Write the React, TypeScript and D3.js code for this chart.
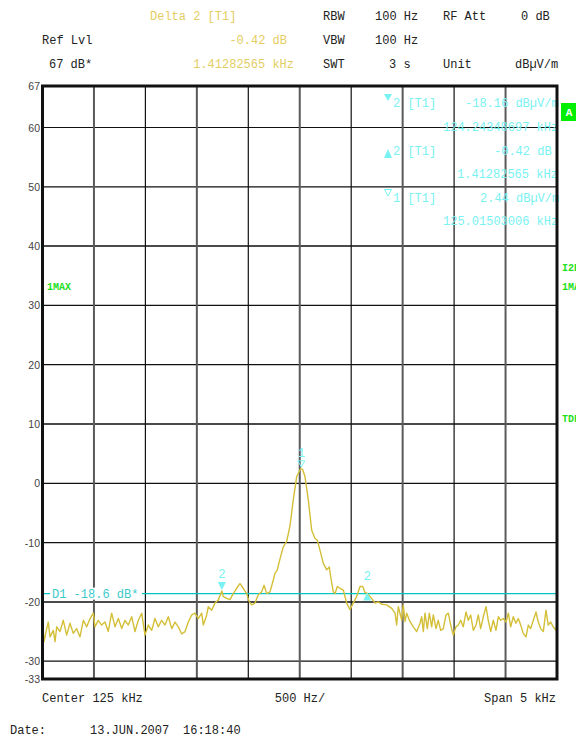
import React from 'react'
import * as d3 from 'd3'

// trace readout (kHz / dBuV/m)
const traceFreq = [
  122.502, 122.515, 122.541, 122.556, 122.573, 122.605, 122.622, 122.638, 122.67, 122.702,
  122.735, 122.767, 122.799, 122.832, 122.864, 122.897, 122.93, 122.962, 122.994, 123.01,
  123.042, 123.075, 123.107, 123.139, 123.172, 123.205, 123.237, 123.27, 123.302, 123.334,
  123.367, 123.399, 123.431, 123.464, 123.496, 123.528, 123.561, 123.593, 123.625, 123.658,
  123.69, 123.723, 123.756, 123.788, 123.82, 123.853, 123.885, 123.917, 123.95, 123.982,
  124.014, 124.047, 124.063, 124.096, 124.111, 124.144, 124.176, 124.208, 124.243, 124.257,
  124.29, 124.322, 124.354, 124.387, 124.419, 124.451, 124.484, 124.51, 124.533, 124.565,
  124.597, 124.63, 124.653, 124.679, 124.711, 124.743, 124.759, 124.782, 124.801, 124.84,
  124.873, 124.905, 124.937, 124.97, 125.002, 125.015, 125.029, 125.051, 125.083, 125.116,
  125.148, 125.171, 125.197, 125.229, 125.262, 125.287, 125.301, 125.326, 125.343, 125.365,
  125.391, 125.423, 125.456, 125.488, 125.52, 125.553, 125.586, 125.612, 125.634, 125.656,
  125.699, 125.731, 125.763, 125.796, 125.845, 125.894, 125.926, 125.942, 125.958, 125.991,
  126.006, 126.023, 126.039, 126.071, 126.103, 126.137, 126.169, 126.185, 126.201, 126.217,
  126.24, 126.259, 126.282, 126.298, 126.324, 126.346, 126.37, 126.395, 126.421, 126.444,
  126.467, 126.492, 126.518, 126.541, 126.564, 126.589, 126.616, 126.638, 126.661, 126.687,
  126.713, 126.735, 126.758, 126.784, 126.81, 126.832, 126.856, 126.881, 126.907, 126.93,
  126.953, 126.978, 127.004, 127.027, 127.05, 127.075, 127.101, 127.124, 127.147, 127.172,
  127.199, 127.221, 127.244, 127.27, 127.296, 127.318, 127.342, 127.367, 127.393, 127.415,
  127.439, 127.464, 127.49, 127.5
]
const traceLevel = [
  -23.6, -26.7, -24.5, -23.4, -25.9, -24.8, -26.7, -24.2, -25.0, -23.1,
  -25.6, -23.6, -25.3, -24.5, -25.9, -23.1, -24.2, -22.8, -21.9, -24.2,
  -23.1, -23.9, -23.4, -25.0, -21.9, -24.2, -22.8, -24.5, -23.1, -23.9,
  -22.5, -25.0, -23.1, -21.9, -25.6, -23.9, -24.8, -22.8, -24.2, -23.1,
  -23.9, -22.5, -24.5, -23.4, -24.2, -25.4, -25.0, -23.4, -22.2, -21.9,
  -22.8, -21.9, -23.9, -22.2, -20.8, -21.4, -20.2, -19.7, -18.16, -19.1,
  -19.4, -19.6, -18.6, -17.7, -16.9, -17.7, -18.6, -20.0, -20.5, -20.2,
  -18.8, -18.3, -17.2, -18.6, -18.3, -16.3, -15.2, -14.6, -13.2, -10.7,
  -9.8, -7.2, -2.8, 1.1, 2.3, 2.44, 2.3, 1.1, -2.8, -7.9,
  -9.3, -9.6, -11.3, -13.5, -14.6, -14.1, -15.8, -18.3, -18.6, -17.4,
  -17.7, -18.0, -20.2, -21.3, -20.2, -19.1, -17.4, -17.4, -18.4, -18.58,
  -19.4, -20.2, -20.0, -20.4, -20.5, -21.1, -21.9, -23.9, -20.8, -23.1,
  -20.5, -23.3, -21.9, -23.3, -24.2, -25.0, -23.6, -22.5, -25.0, -21.9,
  -24.5, -21.9, -24.2, -22.2, -24.5, -23.1, -24.8, -24.5, -22.2, -21.9,
  -23.9, -25.6, -24.2, -23.9, -23.1, -24.2, -21.7, -23.1, -22.2, -24.8,
  -23.9, -22.2, -24.5, -22.5, -20.8, -23.1, -25.0, -23.1, -24.8, -22.5,
  -23.1, -22.8, -23.4, -21.9, -24.2, -22.5, -23.6, -22.8, -23.9, -25.3,
  -25.9, -23.9, -24.5, -23.1, -21.7, -23.4, -24.5, -25.0, -21.4, -23.9,
  -23.4, -24.2, -24.8, -23.4
]

const yTicks = [60, 50, 40, 30, 20, 10, 0, -10, -20, -30]
const xTicks = [123, 123.5, 124, 124.5, 125, 125.5, 126, 126.5, 127]
const boldRows = [40, 10, -20]
const boldCols = [123, 124, 125, 126, 127]

const displayLine = -18.6
const marker1 = { f: 125.015, v: 2.44 }
const marker2 = { f: 124.243, v: -18.16 }
const delta2 = { f: 125.656, v: -18.58 }

const MONO = '"Liberation Mono", "DejaVu Sans Mono", monospace'
const TRACE = '#d4bf38'
const CYAN = '#00c4c4'
const CYAN_TXT = '#78f2f2'
const YEL_TXT = '#e4cd62'
const GREEN = '#22e022'

export default function App() {
  const left = 42.5
  const right = 557
  const top = 86
  const bottom = 679

  const x = d3.scaleLinear().domain([122.5, 127.5]).range([left, right])
  const y = d3.scaleLinear().domain([-33, 67]).range([bottom, top])

  const pts = traceFreq.map((f, i) => [f, traceLevel[i]] as [number, number])
  const line = d3.line<[number, number]>().x(d => x(d[0])).y(d => y(d[1]))

  const txt = (s: string, tx: number, ty: number, fill = '#222', anchor = 'start') => (
    <text x={tx} y={ty} fill={fill} fontFamily={MONO} fontSize={12} textAnchor={anchor}>{s}</text>
  )

  const m1x = x(marker1.f), m1y = y(marker1.v)
  const m2x = x(marker2.f), m2y = y(marker2.v)
  const d2x = x(delta2.f), d2y = y(delta2.v)

  return (
    <svg width={576} height={740} style={{ position: 'absolute', left: 0, top: 0, background: '#fff' }}>
      {/* header */}
      {txt('Delta 2 [T1]', 150, 20, YEL_TXT)}
      {txt('RBW', 323, 20)}
      {txt('100 Hz', 375, 20)}
      {txt('RF Att', 443, 20)}
      {txt('0 dB', 521, 20)}
      {txt('Ref Lvl', 42, 44)}
      {txt('-0.42 dB', 287, 44, YEL_TXT, 'end')}
      {txt('VBW', 323, 44)}
      {txt('100 Hz', 375, 44)}
      {txt('67 dB*', 49, 68)}
      {txt('1.41282565 kHz', 294, 68, YEL_TXT, 'end')}
      {txt('SWT', 323, 68)}
      {txt('3 s', 389, 68)}
      {txt('Unit', 443, 68)}
      {txt('dBµV/m', 515, 68)}

      {/* grid */}
      {yTicks.map(t => (
        <line key={'h' + t} x1={left} x2={right} y1={y(t)} y2={y(t)}
          stroke={boldRows.includes(t) ? '#4a4a4a' : '#111'} strokeWidth={boldRows.includes(t) ? 2 : 1.2} />
      ))}
      {xTicks.map(t => (
        <line key={'v' + t} x1={x(t)} x2={x(t)} y1={top} y2={bottom}
          stroke={boldCols.includes(t) ? '#5a5a5a' : '#111'} strokeWidth={boldCols.includes(t) ? 2 : 1.2} />
      ))}

      {/* y tick labels */}
      {[67, ...yTicks, -33].map(t => (
        <text key={'yl' + t} x={40} y={y(t) + 4} fill="#444" fontFamily='"Liberation Sans", Arial, sans-serif'
          fontSize={10.5} textAnchor="end">{t}</text>
      ))}

      {/* marker info block */}
      <path d="M384,94 L392,94 L388,101 Z" fill={CYAN_TXT} />
      {txt('2 [T1]', 393, 107, CYAN_TXT)}
      {txt('-18.16 dBµV/m', 465, 107, CYAN_TXT)}
      {txt('124.24348697 kHz', 443, 131, CYAN_TXT)}
      <path d="M384,158 L392,158 L388,149 Z" fill={CYAN_TXT} />
      {txt('2 [T1]', 393, 155, CYAN_TXT)}
      {txt('-0.42 dB', 494, 155, CYAN_TXT)}
      {txt('1.41282565 kHz', 457, 178, CYAN_TXT)}
      <path d="M384.5,189.5 L391.5,189.5 L388,196 Z" fill="none" stroke={CYAN_TXT} strokeWidth={1} />
      {txt('1 [T1]', 393, 202, CYAN_TXT)}
      {txt('2.44 dBµV/m', 480, 202, CYAN_TXT)}
      {txt('125.01503006 kHz', 443, 225, CYAN_TXT)}

      {/* display line */}
      <line x1={left} x2={right} y1={y(displayLine)} y2={y(displayLine)} stroke={CYAN} strokeWidth={1.3} />
      <rect x={50} y={y(displayLine) - 6} width={92} height={12} fill="#fff" />
      {txt('D1 -18.6 dB*', 52, y(displayLine) + 4, '#3ccaca')}

      {/* trace */}
      <path d={line(pts) || ''} fill="none" stroke={TRACE} strokeWidth={1.4} strokeLinejoin="round" />

      {/* markers on trace */}
      <path d={`M${m1x - 3.5},${m1y - 8} L${m1x + 3.5},${m1y - 8} L${m1x},${m1y - 2} Z`} fill="none" stroke={CYAN_TXT} strokeWidth={1} />
      {txt('1', m1x, m1y - 12, CYAN_TXT, 'middle')}
      <path d={`M${m2x - 4},${m2y - 9} L${m2x + 4},${m2y - 9} L${m2x},${m2y - 1} Z`} fill={CYAN_TXT} />
      {txt('2', m2x, m2y - 13, CYAN_TXT, 'middle')}
      <path d={`M${d2x - 4},${d2y + 7} L${d2x + 4},${d2y + 7} L${d2x},${d2y - 1} Z`} fill={CYAN_TXT} />
      {txt('2', d2x, d2y - 13, CYAN_TXT, 'middle')}

      {/* frame */}
      <rect x={left} y={top} width={right - left} height={bottom - top} fill="none" stroke="#111" strokeWidth={3} />

      {/* side labels (cut at the right edge as in the instrument screenshot) */}
      <text x={47} y={290} fill={GREEN} fontFamily={MONO} fontSize={10} fontWeight="bold">1MAX</text>
      <text x={562} y={271} fill={GREEN} fontFamily={MONO} fontSize={10} fontWeight="bold">I2E</text>
      <text x={562} y={290} fill={GREEN} fontFamily={MONO} fontSize={10} fontWeight="bold">1MA</text>
      <text x={562} y={422} fill={GREEN} fontFamily={MONO} fontSize={10} fontWeight="bold">TDF</text>
      <rect x={561} y={103} width={16} height={18} fill="#00ee00" />
      <text x={569} y={116} fill="#fff" fontFamily={MONO} fontSize={11} fontWeight="bold" textAnchor="middle">A</text>

      {/* footer */}
      {txt('Center 125 kHz', 42, 702)}
      {txt('500 Hz/', 300, 702, '#222', 'middle')}
      {txt('Span 5 kHz', 556, 702, '#222', 'end')}
      {txt('Date:', 10, 734)}
      {txt('13.JUN.2007', 90, 734)}
      {txt('16:18:40', 183, 734)}
    </svg>
  )
}
